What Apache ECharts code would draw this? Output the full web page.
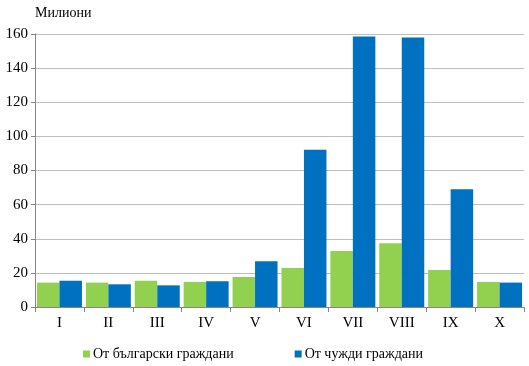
<!DOCTYPE html>
<html><head><meta charset="utf-8">
<script src="https://cdn.jsdelivr.net/npm/echarts@6/dist/echarts.min.js"></script>
<style>html,body{margin:0;padding:0;background:#fff}#c{width:529px;height:366px}</style>
</head><body><div id="c"></div>
<script>
const categories = ['I','II','III','IV','V','VI','VII','VIII','IX','X'];
const bulgarian = [14.3, 14.3, 15.4, 14.7, 17.6, 22.9, 32.8, 37.4, 21.7, 14.7];
const foreign = [15.4, 13.3, 12.7, 15.1, 26.8, 92.1, 158.5, 158.0, 69.0, 14.3];
const seriesNames = ['От български граждани', 'От чужди граждани'];
const yTitle = 'Милиони';

const font = "'Liberation Serif', 'Times New Roman', serif";
const chart = echarts.init(document.getElementById('c'));
chart.setOption({
  animation: false,
  textStyle: {fontFamily: font, color: '#000'},
  grid: {left: 35, right: 5, top: 34, bottom: 59, containLabel: false},
  legend: {
    top: 342, left: 78, itemGap: 61, itemWidth: 7, itemHeight: 7,
    icon: 'rect',
    textStyle: {fontFamily: font, fontSize: 14, color: '#000', padding: [0,0,0,-2]},
    data: seriesNames
  },
  xAxis: {
    type: 'category', data: categories,
    axisLine: {lineStyle: {color: '#868686'}},
    axisTick: {show: true, alignWithLabel: false, length: 5, lineStyle: {color: '#868686'}},
    axisLabel: {fontFamily: font, fontSize: 15, color: '#000', margin: 9}
  },
  yAxis: {
    type: 'value', min: 0, max: 160, interval: 20,
    name: yTitle, nameLocation: 'end', nameGap: 14,
    nameTextStyle: {fontFamily: font, fontSize: 14, color: '#000', align: 'left', padding: [0,0,0,0]},
    axisLine: {show: true, lineStyle: {color: '#868686'}},
    axisTick: {show: true, length: 4, lineStyle: {color: '#868686'}},
    splitLine: {lineStyle: {color: '#BFBFBF'}},
    axisLabel: {fontFamily: font, fontSize: 15, color: '#000', margin: 7}
  },
  series: [
    {name: seriesNames[0], type: 'bar', data: bulgarian, barGap: '0%', barCategoryGap: '8%', itemStyle: {color: '#92D050'}},
    {name: seriesNames[1], type: 'bar', data: foreign, barGap: '0%', barCategoryGap: '8%', itemStyle: {color: '#0070C0'}}
  ]
});
</script></body></html>
